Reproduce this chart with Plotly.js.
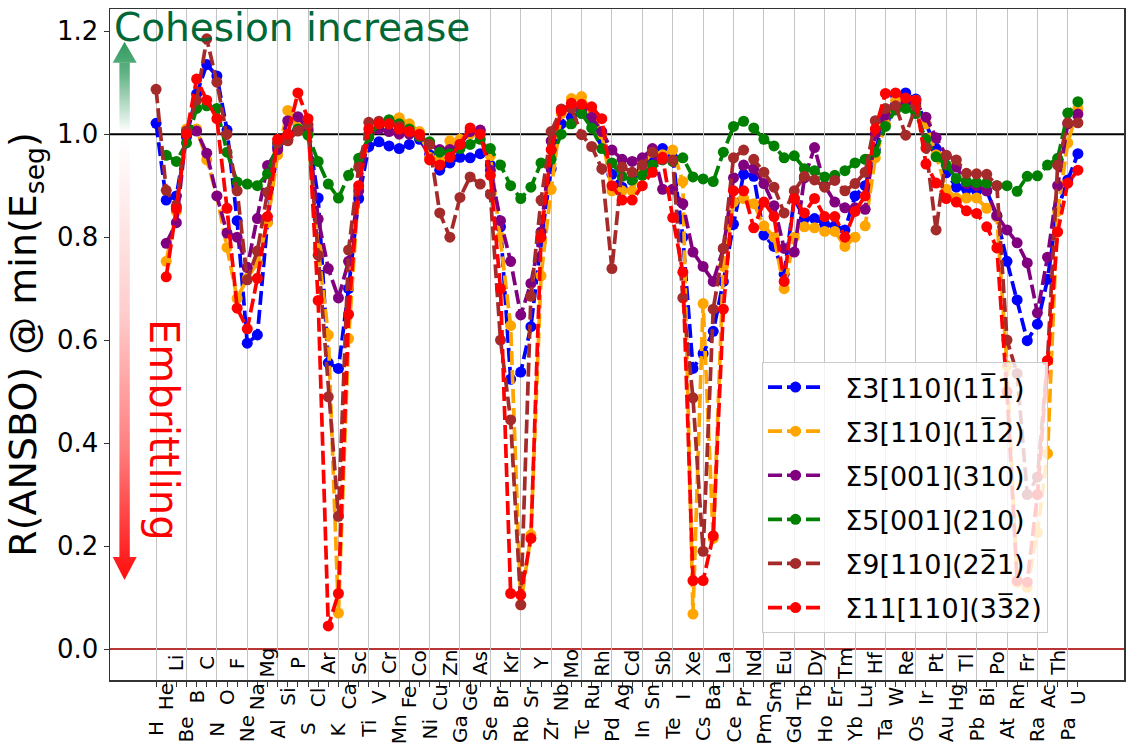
<!DOCTYPE html>
<html>
<head>
<meta charset="utf-8">
<script src="https://cdn.plot.ly/plotly-3.0.1.min.js"></script>
<style>html,body{margin:0;padding:0;background:#fff;}#chart{width:1126px;height:751px;}</style>
</head>
<body>
<div id="chart"></div>
<script>
const elements = ["H","He","Li","Be","B","C","N","O","F","Ne","Na","Mg","Al","Si","P","S","Cl","Ar","K","Ca","Sc","Ti","V","Cr","Mn","Fe","Co","Ni","Cu","Zn","Ga","Ge","As","Se","Br","Kr","Rb","Sr","Y","Zr","Nb","Mo","Tc","Ru","Rh","Pd","Ag","Cd","In","Sn","Sb","Te","I","Xe","Cs","Ba","La","Ce","Pr","Nd","Pm","Sm","Eu","Gd","Tb","Dy","Ho","Er","Tm","Yb","Lu","Hf","Ta","W","Re","Os","Ir","Pt","Au","Hg","Tl","Pb","Bi","Po","At","Rn","Fr","Ra","Ac","Th","Pa","U"];

const s3_111 = [1.021,0.872,0.88,0.995,1.078,1.135,1.113,1.008,0.832,0.594,0.61,0.83,0.975,0.99,1.02,1.005,0.876,0.556,0.545,0.7,0.875,0.976,0.985,0.977,0.972,0.98,0.99,0.96,0.93,0.944,0.955,0.954,0.962,0.94,0.82,0.524,0.538,0.626,0.79,0.933,1.02,1.033,1.045,1.03,0.99,0.922,0.897,0.91,0.93,0.96,0.972,0.955,0.8,0.545,0.574,0.617,0.714,0.825,0.922,0.918,0.804,0.782,0.728,0.875,0.836,0.836,0.825,0.822,0.814,0.88,0.9,0.97,1.03,1.075,1.08,1.068,1.02,0.972,0.925,0.897,0.893,0.89,0.89,0.84,0.753,0.678,0.599,0.631,0.718,0.854,0.911,0.962];

const s3_112 = [null,0.753,0.85,1.01,1.01,0.95,0.88,0.78,0.681,0.72,0.75,0.828,0.96,1.046,1.02,1.0,0.777,0.61,0.07,0.603,0.897,1.0,1.015,1.02,1.032,1.02,1.005,0.955,0.95,0.987,0.99,1.0,1.005,0.958,0.8,0.628,0.086,0.222,0.725,0.893,1.04,1.069,1.073,1.045,1.0,0.89,0.89,0.89,0.94,0.965,0.96,0.969,0.908,0.068,0.671,0.215,0.743,0.868,0.875,0.865,0.822,0.8,0.7,0.8,0.82,0.818,0.811,0.811,0.782,0.8,0.822,0.954,1.02,1.065,1.068,1.066,1.02,0.96,0.893,0.876,0.876,0.876,0.856,0.84,0.55,0.13,0.12,0.226,0.38,0.85,0.983,1.05];

const s5_310 = [null,0.788,0.828,1.005,1.006,0.963,0.88,0.808,0.8,0.741,0.836,0.939,0.97,1.026,1.034,1.01,0.835,0.739,0.682,0.753,0.89,1.0,1.01,1.005,1.0,1.0,0.995,0.98,0.97,0.97,0.98,1.005,1.008,0.93,0.832,0.753,0.649,0.71,0.81,0.987,1.047,1.05,1.05,1.033,1.005,0.969,0.951,0.947,0.954,0.972,0.893,0.893,0.865,0.771,0.743,0.714,0.778,0.915,0.94,0.933,0.904,0.861,0.778,0.771,0.915,0.974,0.9,0.868,0.857,0.857,0.854,1.0,1.037,1.05,1.06,1.06,1.033,0.993,0.958,0.936,0.904,0.9,0.89,0.842,0.814,0.789,0.75,0.653,0.761,0.9,1.02,1.039];

const s5_210 = [null,0.959,0.947,0.983,1.05,1.055,1.05,0.965,0.907,0.903,0.9,0.923,0.983,0.99,1.01,0.998,0.947,0.903,0.876,0.92,0.953,0.994,1.02,1.028,1.02,1.01,0.995,0.985,0.965,0.962,0.972,0.98,0.99,0.972,0.94,0.9,0.875,0.897,0.944,0.951,1.0,1.02,1.04,1.012,0.972,0.944,0.918,0.911,0.92,0.94,0.95,0.947,0.954,0.917,0.913,0.908,0.965,1.015,1.025,1.012,0.99,0.977,0.954,0.958,0.933,0.929,0.917,0.92,0.929,0.944,0.951,0.965,1.015,1.047,1.05,1.04,0.99,0.956,0.94,0.914,0.908,0.906,0.905,0.9,0.9,0.889,0.918,0.919,0.94,0.953,1.041,1.063];

const s9_221 = [1.087,0.891,0.86,1.006,1.066,1.185,1.101,1.0,0.89,0.717,0.773,0.887,0.983,0.987,1.006,1.018,0.765,0.49,0.258,0.775,0.936,1.023,1.025,1.02,1.015,1.005,0.998,0.98,0.847,0.8,0.877,0.917,0.903,0.883,0.6,0.445,0.086,0.685,0.872,1.005,1.049,1.051,0.999,0.976,0.933,0.739,0.936,0.926,0.94,0.965,0.951,0.95,0.682,0.488,0.19,0.66,0.778,0.954,0.969,0.951,0.926,0.897,0.847,0.89,0.918,0.911,0.897,0.91,0.89,0.904,0.926,1.026,1.05,1.055,0.998,1.054,0.973,0.814,0.959,0.95,0.924,0.923,0.922,0.9,0.6,0.535,0.3,0.334,0.56,0.94,1.022,1.022];

const s11_332 = [null,0.723,0.855,1.0,1.107,1.066,1.03,0.856,0.662,0.622,0.72,0.84,0.99,1.0,1.08,1.03,0.677,0.045,0.108,0.65,0.9,1.01,1.02,1.02,1.01,1.005,1.0,0.95,0.94,0.955,0.98,1.012,1.0,0.92,0.7,0.108,0.105,0.215,0.8,0.97,1.045,1.06,1.058,1.053,1.03,0.9,0.872,0.872,0.9,0.926,0.955,0.838,0.732,0.133,0.133,0.22,0.66,0.89,0.89,0.818,0.868,0.84,0.714,0.875,0.847,0.875,0.84,0.84,0.8,0.85,0.88,1.01,1.079,1.08,1.07,1.066,0.942,0.905,0.875,0.868,0.851,0.846,0.82,0.779,0.5,0.133,0.13,0.3,0.56,0.81,0.905,0.93];

const seriesNames = ["\u03A33[110](11\u03051)","\u03A33[110](11\u03052)","\u03A35[001](310)","\u03A35[001](210)","\u03A39[110](22\u03051)","\u03A311[110](33\u03052)"];
const seriesValues = [s3_111, s3_112, s5_310, s5_210, s9_221, s11_332];
const seriesColors = ["#0000ff","#ffa500","#800080","#008000","#a52a2a","#ff0000"];
const yTicks = [0,0.2,0.4,0.6,0.8,1.0,1.2];

const xIdx = elements.map((e,i)=>i);
const gridIdx = xIdx.filter(i=>i%3===0);
const traces = seriesValues.map((vals,k)=>({
  type:'scatter', mode:'lines+markers', x:xIdx, y:vals, name:'\u00a0\u00a0'+seriesNames[k],
  legendgroup:'g'+k,
  line:{color:seriesColors[k], width:3.7, dash:'14px,5px'},
  marker:{color:seriesColors[k], size:11},
  connectgaps:false, hoverinfo:'skip'
}));

// element labels in three staggered rows
const rowY = [-0.073, -0.0253, 0.0253];
const annotations = elements.map((e,i)=>({
  text:e, x:i, xref:'x', y:rowY[i%3], yref:'paper', showarrow:false,
  textangle:-90, xanchor:'center', yanchor:'middle',
  font:{size:20, color:'#000', family:'DejaVu Sans'}
}));
annotations.push({
  text:'Cohesion increase', x:0.002, xref:'paper', y:(680-27)/671, yref:'paper',
  xanchor:'left', yanchor:'middle', showarrow:false,
  font:{size:39, color:'#006837', family:'DejaVu Sans'}
});
annotations.push({
  text:'Embrittling', x:(164-110)/1014, xref:'paper', y:(680-430)/671, yref:'paper',
  xanchor:'center', yanchor:'middle', showarrow:false, textangle:90,
  font:{size:40, color:'#ff0000', family:'DejaVu Sans'}
});

// gradient arrows (decoration)
const svg = '<svg xmlns="http://www.w3.org/2000/svg" width="30" height="550" viewBox="0 0 30 550">'+
 '<defs>'+
 '<linearGradient id="g" gradientUnits="userSpaceOnUse" x1="0" y1="6.7" x2="0" y2="97">'+
 '<stop offset="0" stop-color="#2e9a5c" stop-opacity="1"/><stop offset="0.35" stop-color="#2e9a5c" stop-opacity="0.75"/><stop offset="1" stop-color="#2e9a5c" stop-opacity="0"/></linearGradient>'+
 '<linearGradient id="r" gradientUnits="userSpaceOnUse" x1="0" y1="102" x2="0" y2="545">'+
 '<stop offset="0" stop-color="#ff0000" stop-opacity="0"/><stop offset="0.4" stop-color="#ff0000" stop-opacity="0.2"/><stop offset="0.7" stop-color="#ff0000" stop-opacity="0.5"/><stop offset="1" stop-color="#ff0000" stop-opacity="0.95"/></linearGradient>'+
 '</defs>'+
 '<polygon points="14.5,6.7 2.7,27.7 26.7,27.7" fill="url(#g)"/>'+
 '<rect x="9.4" y="27.7" width="10.4" height="69.3" fill="url(#g)"/>'+
 '<rect x="9.4" y="102" width="10.4" height="420" fill="url(#r)"/>'+
 '<polygon points="2.7,522 26.7,522 14.5,545" fill="url(#r)"/>'+
 '</svg>';
const svgSrc = 'data:image/svg+xml;base64,' + btoa(svg);

const layout = {
  width:1126, height:751,
  margin:{l:110, r:2, t:9, b:71, pad:0},
  paper_bgcolor:'#fff', plot_bgcolor:'#fff',
  font:{family:'DejaVu Sans', color:'#000'},
  showlegend:true,
  legend:{x:(762-110)/1014, y:(680-362)/671, xanchor:'left', yanchor:'top',
    bgcolor:'rgba(255,255,255,0.8)', bordercolor:'#cccccc', borderwidth:1,
    font:{size:27, family:'DejaVu Sans', color:'#000'}, itemwidth:55, tracegroupgap:6},
  xaxis:{range:[-4.55,95.55], tickmode:'array', tickvals:gridIdx, showticklabels:false,
    ticks:'outside', ticklen:5, tickcolor:'#333', tickwidth:1,
    showgrid:true, gridcolor:'#c4c4c4', gridwidth:1, zeroline:false,
    showline:true, mirror:true, linecolor:'#333', linewidth:1.5,
    minor:{tickmode:'array', tickvals:xIdx, ticks:'outside', ticklen:5, tickcolor:'#333', tickwidth:1, showgrid:false}},
  yaxis:{range:[-0.06,1.243], tickmode:'array', tickvals:yTicks, tickformat:'.1f',
    ticks:'outside', ticklen:5, tickcolor:'#333', tickfont:{size:26},
    showgrid:false, zeroline:false, showline:true, mirror:true, linecolor:'#333', linewidth:1.5,
    title:{text:'R(ANSBO) @ min(E<sub>seg</sub>)', font:{size:38}, standoff:8}},
  shapes:[
    {type:'line', xref:'paper', x0:0, x1:1, yref:'y', y0:1, y1:1, line:{color:'#000', width:2}, layer:'below'},
    {type:'line', xref:'paper', x0:0, x1:1, yref:'y', y0:0, y1:0, line:{color:'#b83636', width:2}, layer:'below'}
  ],
  images:[{source:svgSrc, xref:'paper', yref:'paper', x:0, y:(680-35)/671,
    sizex:30/1014, sizey:550/671, xanchor:'left', yanchor:'top', sizing:'stretch', layer:'above'}],
  annotations:annotations
};

Plotly.newPlot('chart', traces, layout, {displayModeBar:false, staticPlot:true});
</script>
</body>
</html>
